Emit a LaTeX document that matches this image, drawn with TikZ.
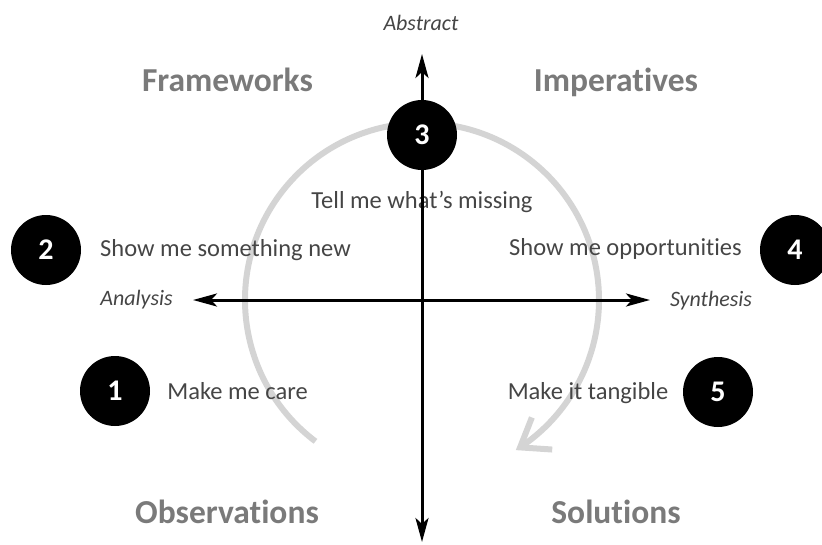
\documentclass[tikz,border=0pt]{standalone}
\usepackage{fontspec}
\setmainfont{Carlito}[Ligatures={NoCommon}]
\usetikzlibrary{arrows.meta,bending}
\definecolor{headgray}{HTML}{7A7A7A}
\definecolor{txtgray}{HTML}{454545}
\definecolor{arcgray}{HTML}{D4D4D4}
\begin{document}
\begin{tikzpicture}[x=1pt,y=-1pt,
  numcirc/.style={circle,fill=black,minimum size=70pt,inner sep=0pt,text=white,
    font=\fontsize{30}{30}\selectfont\bfseries},
  head/.style={anchor=base,inner sep=0pt,text=headgray,font=\fontsize{33.5}{33.5}\selectfont\bfseries},
  lbl/.style={anchor=base,inner sep=0pt,text=txtgray,font=\fontsize{24.5}{24.5}\selectfont},
  axlbl/.style={anchor=base,inner sep=0pt,text=txtgray,font=\fontsize{22}{22}\selectfont\itshape},
  axisline/.style={line width=3pt,
    {Stealth[length=24pt,width=13pt,inset=6pt]}-{Stealth[length=24pt,width=13pt,inset=6pt]}},
  cyclearc/.style={arcgray,line width=6pt,-{Straight Barb[length=26pt,width=38pt]}}
]
\useasboundingbox (0,0) rectangle (822,544);
\coordinate (O) at (422,300);
\coordinate (L) at (193,300);
\coordinate (R) at (650,300);
\coordinate (T) at (422,54);
\coordinate (B) at (422,542);

% grey cycle arc
\draw[cyclearc] (O) ++(127:177) arc[start angle=127,end angle=418,radius=177];

% headings
\node[head] (fw)  at (227.5,91) {Frameworks};
\node[head] (imp) at (616,91) {Imperatives};
\node[head] (obs) at (227,523) {Observations};
\node[head] (sol) at (616,523) {Solutions};

% axis labels
\node[axlbl] (abs) at (421,30) {Abstract};
\node[axlbl] (ana) at (136.5,305) {Analysis};
\node[axlbl] (syn) at (711,306) {Synthesis};

% step labels
\node[lbl] (t3) at (422,208) {Tell me what’s missing};
\node[lbl] (t2) at (225.5,256) {Show me something new};
\node[lbl] (t4) at (625.5,255) {Show me opportunities};
\node[lbl] (t1) at (237.5,399) {Make me care};
\node[lbl] (t5) at (588,399) {Make it tangible};

% axes
\draw[axisline] (L) -- (R);
\draw[axisline] (B) -- (T);

% numbered circles
\node[numcirc] (c3) at (422,135) {3};
\node[numcirc] (c2) at (46,250) {2};
\node[numcirc] (c4) at (795,250) {4};
\node[numcirc] (c1) at (115,391) {1};
\node[numcirc] (c5) at (718,392) {5};
\end{tikzpicture}
\end{document}
